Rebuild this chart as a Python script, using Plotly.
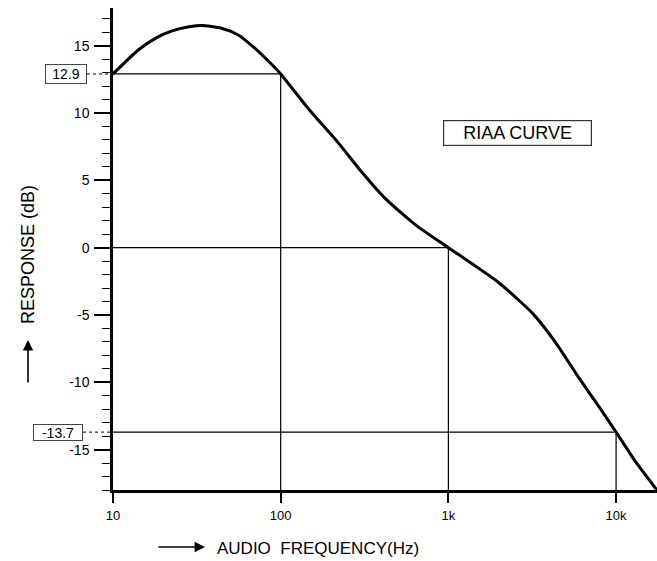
import plotly.graph_objects as go

# ---- data ----
freq_hz = [10, 14.2, 18.2, 22.5, 28.4, 33.8, 44.4, 55.8, 70.3, 88.5, 100,
           149, 220, 305, 424, 651, 1000, 1950, 2600, 3190, 4330, 5950,
           8090, 10000, 13070, 17500]
response_db = [12.9, 14.7, 15.6, 16.1, 16.4, 16.5, 16.3, 15.8, 14.8, 13.6, 12.9,
               10.2, 7.8, 5.6, 3.6, 1.6, 0.0, -2.5, -3.85, -4.9, -7.0, -9.6,
               -12.0, -13.7, -15.9, -18.0]

marker_freqs = [100, 1000, 10000]
marker_levels = [12.9, 0.0, -13.7]

x_tick_vals = [10, 100, 1000, 10000]
x_tick_text = ["10", "100", "1k", "10k"]
y_tick_vals = [-15, -10, -5, 0, 5, 10, 15]
y_tick_text = ["-15", "-10", "-5", "0", "5", "10", "15"]

x_min, x_max = 10, 17540
y_min, y_max = -18.0, 17.8

FONT = "Liberation Sans"

fig = go.Figure()

# reference (drop) lines
for f, lv in zip(marker_freqs, marker_levels):
    fig.add_trace(go.Scatter(
        x=[x_min, f, f], y=[lv, lv, y_min], mode="lines",
        line=dict(color="black", width=1.2), hoverinfo="skip", showlegend=False))

# RIAA curve
fig.add_trace(go.Scatter(
    x=freq_hz, y=response_db, mode="lines",
    line=dict(color="black", width=3, shape="spline", smoothing=0.6),
    showlegend=False))

fig.update_layout(
    width=657, height=561, autosize=False,
    margin=dict(l=113, r=0, t=8, b=71),
    paper_bgcolor="white", plot_bgcolor="white",
    font=dict(family=FONT, color="black"),
    xaxis=dict(
        type="log", range=[1, 4.244], showgrid=False, zeroline=False,
        showline=True, linecolor="black", linewidth=2.5,
        tickmode="array", tickvals=x_tick_vals, ticktext=x_tick_text,
        ticks="outside", ticklen=10, tickwidth=1.5, tickcolor="black",
        tickfont=dict(size=13, family=FONT), ticklabelstandoff=2),
    yaxis=dict(
        range=[y_min, y_max], showgrid=False, zeroline=False,
        showline=True, linecolor="black", linewidth=2.5,
        tickmode="array", tickvals=y_tick_vals, ticktext=y_tick_text,
        ticks="outside", ticklen=16, tickwidth=1.5, tickcolor="black",
        tickfont=dict(size=14, family=FONT), ticklabelstandoff=2,
        minor=dict(dtick=1, ticks="outside", ticklen=8, tickwidth=1.2,
                   tickcolor="black", showgrid=False)),
)

def px_x(px):
    return (px - 113) / 544.0

def px_y(py):
    return (490 - py) / 482.0

annotations = [
    # boxed level labels
    dict(text="12.9", xref="paper", yref="y", x=px_x(87), y=marker_levels[0],
         xanchor="right", yanchor="middle", showarrow=False,
         font=dict(size=14, family=FONT), width=38, height=16,
         bordercolor="#444", borderwidth=1, borderpad=1),
    dict(text="-13.7", xref="paper", yref="y", x=px_x(83), y=marker_levels[2],
         xanchor="right", yanchor="middle", showarrow=False,
         font=dict(size=14, family=FONT), width=46, height=13,
         bordercolor="#444", borderwidth=1, borderpad=1),
    # title box
    dict(text="RIAA CURVE", xref="paper", yref="paper", x=px_x(517), y=px_y(133),
         xanchor="center", yanchor="middle", showarrow=False,
         font=dict(size=18, family=FONT), width=145, height=22,
         bordercolor="#333", borderwidth=1.2, borderpad=1),
    # axis titles
    dict(text="RESPONSE (dB)", xref="paper", yref="paper", x=px_x(28), y=px_y(255),
         xanchor="center", yanchor="middle", textangle=-90, showarrow=False,
         font=dict(size=18, family=FONT)),
    dict(text="AUDIO  FREQUENCY(Hz)", xref="paper", yref="paper", x=px_x(215), y=px_y(548),
         xanchor="left", yanchor="middle", showarrow=False,
         font=dict(size=17, family=FONT)),
    # arrows
    dict(text="", xref="paper", yref="paper", x=px_x(28), y=px_y(340),
         ax=0, ay=44, showarrow=True, arrowhead=2, arrowsize=1.3,
         arrowwidth=1.6, arrowcolor="black"),
    dict(text="", xref="paper", yref="paper", x=px_x(205), y=px_y(547),
         ax=-48, ay=0, showarrow=True, arrowhead=2, arrowsize=1.3,
         arrowwidth=1.6, arrowcolor="black"),
]
fig.update_layout(annotations=annotations)

# dashed connectors from level boxes to the axis
for lv, x_start in [(marker_levels[0], 87), (marker_levels[2], 83)]:
    fig.add_shape(type="line", xref="paper", yref="y",
                  x0=px_x(x_start), x1=0, y0=lv, y1=lv,
                  line=dict(color="black", width=1, dash="dot"))

fig.write_html("out.html",
               config={"displayModeBar": False},
               post_script="document.body.style.margin='0';document.body.style.padding='0';")
